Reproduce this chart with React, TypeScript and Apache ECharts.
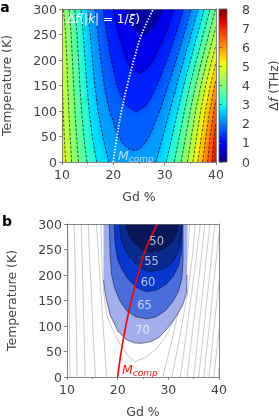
import React, { useEffect, useRef } from "react";
import * as echarts from "echarts";

// ---------------- shared axes ----------------
const gdTicks = [10, 20, 30, 40];
const temperatureTicks = [0, 50, 100, 150, 200, 250, 300];
const deltaFTicks = [0, 1, 2, 3, 4, 5, 6, 7, 8];

// M_comp curve (Gd %, T) – same in both panels
const mcompCurve = [[20.0, 0], [20.7, 50], [21.6, 100], [22.7, 150], [24.0, 200], [25.5, 250], [27.8, 300]];

// ---------------- panel a : contours of Δf (THz) ----------------
const levelsA = [0.5, 1.0, 1.5, 2.0, 2.5, 3.0, 3.5, 4.0, 4.5, 5.0, 5.5, 6.0, 6.5, 7.0];
const topBandValueA = 7.25;

// U-shaped contours (open to the top edge)
const uContour05 = [[22.5, 300], [23.26, 280], [24.04, 265], [25.9, 250], [27.67, 265], [28.58, 280], [29.55, 300]];
const uContour10 = [[19.94, 300], [21.04, 250], [22.63, 200], [23.5, 185], [25.15, 174], [26.72, 185], [27.75, 200], [30.1, 250], [31.87, 300]];
const uContour15 = [[18.03, 300], [18.79, 250], [19.6, 200], [20.78, 150], [21.74, 125], [22.64, 110], [24.5, 98.5], [26.23, 110], [27.23, 125], [28.44, 150], [30.42, 200], [32.12, 250], [33.64, 300]];
const uContour20 = [[16.41, 300], [17.03, 250], [17.58, 200], [18.25, 150], [19.25, 100], [21.01, 50], [21.98, 35], [22.97, 26], [24.1, 22.7], [25.1, 26], [26.0, 35], [26.96, 50], [29.04, 100], [30.67, 150], [32.23, 200], [33.74, 250], [35.15, 300]];

// contours left of the valley (bottom -> top)
const leftContour25 = [[19.1, 0], [17.92, 50], [17.02, 100], [16.39, 150], [15.93, 200], [15.51, 250], [14.98, 300]];
const leftContour30 = [[16.75, 0], [15.89, 50], [15.29, 100], [14.85, 150], [14.5, 200], [14.16, 250], [13.68, 300]];
const leftContour35 = [[14.85, 0], [14.26, 50], [13.82, 100], [13.48, 150], [13.22, 200], [12.93, 250], [12.48, 300]];
const leftContour40 = [[13.22, 0], [12.84, 50], [12.52, 100], [12.26, 150], [12.03, 200], [11.79, 250], [11.36, 300]];
const leftContour45 = [[11.88, 0], [11.58, 50], [11.33, 100], [11.13, 150], [10.94, 200], [10.72, 250], [10.29, 300]];
const leftContour50 = [[10.72, 0], [10.44, 50], [10.24, 100], [10.08, 150], [10, 174]];

// contours right of the valley (bottom -> top)
const rightContour25 = [[28.3, 0], [29.65, 50], [31.0, 100], [32.33, 150], [33.72, 200], [35.13, 250], [36.49, 300]];
const rightContour30 = [[30.3, 0], [31.44, 50], [32.53, 100], [33.71, 150], [35.02, 200], [36.38, 250], [37.72, 300]];
const rightContour35 = [[31.85, 0], [32.87, 50], [33.83, 100], [34.92, 150], [36.19, 200], [37.52, 250], [38.86, 300]];
const rightContour40 = [[33.2, 0], [34.1, 50], [34.98, 100], [36.03, 150], [37.27, 200], [38.59, 250], [39.92, 300]];
const rightContour45 = [[34.45, 0], [35.21, 50], [36.03, 100], [37.05, 150], [38.26, 200], [39.59, 250], [40, 265]];
const rightContour50 = [[35.5, 0], [36.22, 50], [37.0, 100], [37.99, 150], [39.21, 200], [40, 230]];
const rightContour55 = [[36.45, 0], [37.16, 50], [37.91, 100], [38.89, 150], [40, 196]];
const rightContour60 = [[37.4, 0], [38.03, 50], [38.76, 100], [39.74, 150], [40, 161]];
const rightContour65 = [[38.35, 0], [38.85, 50], [39.57, 100], [40, 122]];
const rightContour70 = [[39.25, 0], [39.64, 50], [40, 75]];

// ---------------- panel b : filled contours ----------------
const bandLabelsB = ["50", "55", "60", "65", "70"];
const bandLabelPosB = [[27.7, 267], [26.7, 228], [26.0, 187], [25.3, 142], [24.9, 92]];

const bandB50 = [[21.5, 300], [22.2, 280], [23.3, 262], [24.8, 250], [26.5, 244], [28.3, 248], [29.8, 256], [31.0, 268], [31.7, 285], [32.0, 300]];
const bandB55 = [[20.35, 300], [20.7, 270], [21.5, 250], [22.6, 232], [24.2, 215], [26.3, 207], [28.3, 210], [30.0, 218], [31.3, 232], [32.1, 250], [32.5, 275], [32.6, 300]];
const bandB60 = [[19.3, 300], [19.5, 260], [20.0, 230], [20.9, 210], [22.2, 190], [23.8, 175], [25.7, 167], [27.8, 171], [29.6, 182], [31.0, 198], [32.0, 218], [32.6, 245], [32.75, 300]];
const bandB65 = [[18.35, 300], [18.5, 240], [18.8, 200], [19.4, 175], [20.4, 150], [21.8, 130], [23.6, 118], [25.7, 114], [27.6, 118], [29.4, 130], [30.9, 148], [32.0, 168], [32.7, 195], [32.9, 230], [32.9, 300]];
const bandB70Curve = [[17.2, 190], [17.6, 160], [18.5, 122], [20.1, 89], [21.8, 73], [23.2, 67], [24.7, 66], [26.5, 69], [28.2, 78], [29.8, 95], [31.5, 118], [32.8, 140], [33.6, 165], [33.7, 200]];
const bandB70ClipGd = [17.2, 33.7];

// thin grey contours outside the filled region
const greyB75 = [[16.7, 300], [16.9, 220], [17.3, 160], [17.9, 120], [19.3, 85], [20.8, 60], [22.0, 42], [23.4, 30], [25.4, 38], [27.3, 52], [29.0, 72], [30.4, 97], [31.6, 122], [32.5, 150], [33.2, 185], [33.6, 240], [33.8, 300]];
const greyB80L = [[17.8, 0], [17.3, 75], [16.8, 150], [16.3, 225], [15.8, 300]];
const greyB85L = [[15.6, 0], [15.2, 75], [14.9, 150], [14.5, 225], [14.2, 300]];
const greyB90L = [[13.6, 0], [13.4, 75], [13.2, 150], [13.0, 225], [12.8, 300]];
const greyB95L = [[12.0, 0], [11.9, 75], [11.7, 150], [11.6, 225], [11.4, 300]];
const greyB100L = [[10.6, 0], [10.5, 75], [10.4, 150], [10.3, 225], [10.1, 300]];
const greyB80R = [[28.9, 0], [30.4, 60], [31.8, 120], [33.0, 180], [33.8, 240], [34.2, 300]];
const greyB85R = [[30.7, 0], [31.9, 60], [33.0, 120], [34.0, 180], [34.8, 240], [35.3, 300]];
const greyB90R = [[32.4, 0], [33.4, 75], [34.4, 150], [35.4, 225], [36.3, 300]];
const greyB95R = [[33.7, 0], [34.6, 75], [35.5, 150], [36.4, 225], [37.2, 300]];
const greyB100R = [[35.0, 0], [35.8, 75], [36.6, 150], [37.4, 225], [38.2, 300]];
const greyB105R = [[36.0, 0], [36.8, 75], [37.6, 150], [38.4, 225], [39.2, 300]];
const greyB110R = [[37.0, 0], [37.8, 75], [38.6, 150], [39.4, 225], [40.0, 281]];
const greyB115R = [[38.0, 0], [38.8, 75], [39.6, 150], [40.0, 188]];
const greyB120R = [[39.0, 0], [39.8, 75], [40.0, 94]];
const greyB125R = [[39.8, 0], [40.0, 19]];

// ---------------- helpers (styling) ----------------
const FONT = "DejaVu Sans";
const GD_MIN = gdTicks[0];
const GD_MAX = gdTicks[gdTicks.length - 1];
const T_MIN = temperatureTicks[0];
const T_MAX = temperatureTicks[temperatureTicks.length - 1];
const DF_MAX = deltaFTicks[deltaFTicks.length - 1];

const JET_R = [[0, 0], [0.35, 0], [0.66, 1], [0.89, 1], [1, 0.5]];
const JET_G = [[0, 0], [0.125, 0], [0.375, 1], [0.64, 1], [0.91, 0], [1, 0]];
const JET_B = [[0, 0.5], [0.11, 1], [0.34, 1], [0.65, 0], [1, 0]];
function seg(stops: number[][], t: number) {
  for (let i = 0; i < stops.length - 1; i++) {
    const [p0, v0] = stops[i];
    const [p1, v1] = stops[i + 1];
    if (t <= p1) return v0 + ((v1 - v0) * (t - p0)) / (p1 - p0);
  }
  return stops[stops.length - 1][1];
}
function jet(t: number) {
  const c = Math.max(0, Math.min(1, t));
  const r = Math.round(seg(JET_R, c) * 255);
  const g = Math.round(seg(JET_G, c) * 255);
  const b = Math.round(seg(JET_B, c) * 255);
  return `rgb(${r},${g},${b})`;
}

const uContoursA: Record<string, number[][]> = { "0.5": uContour05, "1": uContour10, "1.5": uContour15, "2": uContour20 };
const leftContoursA: Record<string, number[][]> = { "2.5": leftContour25, "3": leftContour30, "3.5": leftContour35, "4": leftContour40, "4.5": leftContour45, "5": leftContour50 };
const rightContoursA: Record<string, number[][]> = {
  "2.5": rightContour25, "3": rightContour30, "3.5": rightContour35, "4": rightContour40, "4.5": rightContour45,
  "5": rightContour50, "5.5": rightContour55, "6": rightContour60, "6.5": rightContour65, "7": rightContour70,
};

function regionBelowA(level: number): number[][] {
  const key = String(level);
  if (uContoursA[key]) return uContoursA[key];
  const left = leftContoursA[key];
  const right = rightContoursA[key];
  const pts: number[][] = [];
  if (left) {
    pts.push(...left);
    if (left[left.length - 1][1] < T_MAX) pts.push([GD_MIN, T_MAX]);
  } else {
    pts.push([GD_MIN, T_MIN], [GD_MIN, T_MAX]);
  }
  if (right) {
    const rev = right.slice().reverse();
    if (rev[0][1] < T_MAX) pts.push([GD_MAX, T_MAX]);
    pts.push(...rev);
  } else {
    pts.push([GD_MAX, T_MAX], [GD_MAX, T_MIN]);
  }
  return pts;
}

const bandColorsB = ["#08175a", "#0a2a8e", "#0638d0", "#4a6ddc", "#a2afec"];

export default function App() {
  const ref = useRef<HTMLDivElement>(null);
  useEffect(() => {
    if (!ref.current) return;
    const chart = echarts.init(ref.current, undefined, { renderer: "svg" });

    const dashed = { stroke: "rgba(0,0,0,0.8)", lineWidth: 0.8, lineDash: [2.8, 1.6], fill: null };

    const renderA = (params: any, api: any) => {
      const c = (p: number[]) => api.coord(p);
      const children: any[] = [];
      children.push({
        type: "polygon",
        shape: { points: [[GD_MIN, T_MIN], [GD_MIN, T_MAX], [GD_MAX, T_MAX], [GD_MAX, T_MIN]].map(c) },
        style: { fill: jet(topBandValueA / DF_MAX) },
      });
      for (const L of levelsA.slice().reverse()) {
        const col = jet((L - 0.25) / DF_MAX);
        children.push({
          type: "polygon",
          shape: { points: regionBelowA(L).map(c) },
          style: { fill: col, shadowBlur: 6, shadowColor: col },
        });
      }
      const lines = [
        ...Object.values(uContoursA),
        ...Object.values(leftContoursA),
        ...Object.values(rightContoursA),
      ];
      for (const ln of lines) {
        children.push({ type: "polyline", shape: { points: ln.map(c) }, style: dashed });
      }
      return { type: "group", children };
    };

    const renderCb = (params: any, api: any) => {
      const p0 = api.coord([0, deltaFTicks[0]]);
      const p1 = api.coord([1, DF_MAX]);
      const offs = [0, 0.11, 0.125, 0.34, 0.35, 0.375, 0.64, 0.65, 0.66, 0.89, 0.91, 1];
      return {
        type: "rect",
        shape: { x: p0[0], y: p1[1], width: p1[0] - p0[0], height: p0[1] - p1[1] },
        style: {
          fill: new echarts.graphic.LinearGradient(0, 1, 0, 0, offs.map((o) => ({ offset: o, color: jet(o) }))),
          stroke: "#555",
          lineWidth: 0.8,
        },
      };
    };

    const renderB = (params: any, api: any) => {
      const c = (p: number[]) => api.coord(p);
      const children: any[] = [];
      const greys = [greyB75, greyB80L, greyB85L, greyB90L, greyB95L, greyB100L, greyB80R, greyB85R, greyB90R, greyB95R, greyB100R, greyB105R, greyB110R, greyB115R, greyB120R, greyB125R];
      for (const g of greys) {
        children.push({ type: "polyline", shape: { points: g.map(c) }, style: { stroke: "#a8a8a8", lineWidth: 0.6, fill: null } });
      }
      const b70 = [[bandB70ClipGd[0], T_MAX], ...bandB70Curve, [bandB70ClipGd[1], T_MAX]];
      const bands = [b70, bandB65, bandB60, bandB55, bandB50];
      const cols = bandColorsB.slice().reverse();
      bands.forEach((b, i) => {
        children.push({ type: "polygon", shape: { points: b.map(c) }, style: { fill: cols[i] } });
      });
      const outlines = [bandB70Curve, bandB65, bandB60, bandB55, bandB50];
      for (const o of outlines) {
        children.push({ type: "polyline", shape: { points: o.map(c) }, style: { stroke: "rgba(10,10,30,0.85)", lineWidth: 0.6, fill: null } });
      }
      return { type: "group", children };
    };

    const axisLineStyle = { color: "#666", width: 0.8 };
    const mkX = (gridIndex: number) => ({
      type: "value", gridIndex, min: GD_MIN, max: GD_MAX, interval: gdTicks[1] - gdTicks[0],
      axisLine: { show: true, onZero: false, lineStyle: axisLineStyle },
      axisTick: { show: true, length: 3, lineStyle: axisLineStyle },
      minorTick: { show: true, splitNumber: 2, length: 2, lineStyle: { color: "#666", width: 0.7 } },
      axisLabel: { color: "#444", fontSize: 12.5, fontFamily: FONT, margin: 6 },
      splitLine: { show: false }, minorSplitLine: { show: false }, z: 10,
    });
    const mkY = (gridIndex: number) => ({
      type: "value", gridIndex, min: T_MIN, max: T_MAX, interval: temperatureTicks[1] - temperatureTicks[0],
      axisLine: { show: true, onZero: false, lineStyle: axisLineStyle },
      axisTick: { show: true, length: 3, lineStyle: axisLineStyle },
      axisLabel: { color: "#444", fontSize: 12.5, fontFamily: FONT, margin: 5 },
      splitLine: { show: false }, z: 10,
    });
    const frameX = (gridIndex: number) => ({
      type: "value", gridIndex, min: GD_MIN, max: GD_MAX, position: "top",
      axisLine: { show: true, onZero: false, lineStyle: axisLineStyle },
      axisTick: { show: false }, axisLabel: { show: false }, splitLine: { show: false }, z: 10,
    });
    const frameY = (gridIndex: number) => ({
      type: "value", gridIndex, min: T_MIN, max: T_MAX, position: "right",
      axisLine: { show: true, onZero: false, lineStyle: axisLineStyle },
      axisTick: { show: false }, axisLabel: { show: false }, splitLine: { show: false }, z: 10,
    });

    const mathRich = (color: string, size: number) => ({
      r: { fontFamily: FONT, fontSize: size, fill: color, color },
      i: { fontFamily: FONT, fontSize: size, fontStyle: "italic", fill: color, color },
    });
    const mcompRich = (color: string) => ({
      m: { fontFamily: FONT, fontSize: 12.5, fontStyle: "italic", fill: color, lineHeight: 16, verticalAlign: "middle" },
      s: { fontFamily: FONT, fontSize: 9, fontStyle: "italic", fill: color, lineHeight: 9, verticalAlign: "bottom" },
    });

    const option: any = {
      animation: false,
      grid: [
        { left: 62, top: 9, width: 154, height: 153 },
        { left: 219, top: 9, width: 8, height: 153 },
        { left: 67, top: 224, width: 152, height: 153 },
      ],
      xAxis: [
        mkX(0),
        frameX(0),
        { type: "value", gridIndex: 1, min: 0, max: 1, show: false },
        mkX(2),
        frameX(2),
      ],
      yAxis: [
        mkY(0),
        frameY(0),
        {
          type: "value", gridIndex: 1, min: deltaFTicks[0], max: DF_MAX, interval: 1, position: "right",
          axisLine: { show: false }, axisTick: { show: true, length: 3, lineStyle: { color: "#555", width: 0.8 } },
          axisLabel: { color: "#444", fontSize: 12.5, fontFamily: FONT, margin: 15 },
          splitLine: { show: false }, z: 10,
        },
        mkY(2),
        frameY(2),
      ],
      series: [
        {
          type: "custom", xAxisIndex: 0, yAxisIndex: 0, data: [[GD_MIN, T_MIN]], encode: { x: 0, y: 1 },
          renderItem: renderA, clip: true, silent: true, z: 2,
        },
        {
          type: "line", xAxisIndex: 0, yAxisIndex: 0, data: mcompCurve, showSymbol: false, smooth: 0.35,
          lineStyle: { color: "#ffffff", width: 1.8, type: [1.4, 1.6] }, silent: true, z: 4,
        },
        {
          type: "custom", xAxisIndex: 2, yAxisIndex: 2, data: [[0, 0]], encode: { x: 0, y: 1 },
          renderItem: renderCb, silent: true, z: 2,
        },
        {
          type: "custom", xAxisIndex: 3, yAxisIndex: 3, data: [[GD_MIN, T_MIN]], encode: { x: 0, y: 1 },
          renderItem: renderB, clip: true, silent: true, z: 2,
        },
        {
          type: "line", xAxisIndex: 3, yAxisIndex: 3, data: mcompCurve, showSymbol: false, smooth: 0.35,
          lineStyle: { color: "#ff0000", width: 1.6 }, silent: true, z: 4,
        },
        {
          type: "scatter", xAxisIndex: 3, yAxisIndex: 3, symbolSize: 0, silent: true, z: 5,
          data: bandLabelPosB.map((p, i) => ({ name: bandLabelsB[i], value: p })),
          label: { show: true, position: "inside", formatter: "{b}", color: "rgba(255,255,255,0.88)", fontSize: 11.5, fontFamily: FONT },
        },
      ],
      graphic: [
        { type: "text", x: 5, y: 7, style: { text: "a", fontFamily: FONT, fontSize: 14, fontWeight: "bold", fill: "#000", align: "center", verticalAlign: "middle" } },
        { type: "text", x: 7, y: 221, style: { text: "b", fontFamily: FONT, fontSize: 14, fontWeight: "bold", fill: "#000", align: "center", verticalAlign: "middle" } },
        { type: "text", x: 6, y: 85.5, rotation: Math.PI / 2, style: { text: "Temperature (K)", fontFamily: FONT, fontSize: 12.5, fill: "#444", align: "center", verticalAlign: "middle" } },
        { type: "text", x: 11, y: 300.5, rotation: Math.PI / 2, style: { text: "Temperature (K)", fontFamily: FONT, fontSize: 12.5, fill: "#444", align: "center", verticalAlign: "middle" } },
        { type: "text", x: 139, y: 196, style: { text: "Gd %", fontFamily: FONT, fontSize: 12.5, fill: "#444", align: "center", verticalAlign: "middle" } },
        { type: "text", x: 143, y: 411, style: { text: "Gd %", fontFamily: FONT, fontSize: 12.5, fill: "#444", align: "center", verticalAlign: "middle" } },
        {
          type: "text", x: 273, y: 85.5, rotation: Math.PI / 2,
          style: { text: "{r|Δ}{i|f}{r| (THz)}", rich: mathRich("#444", 12.5), align: "center", verticalAlign: "middle" },
        },
        {
          type: "text", x: 67, y: 19, z: 20,
          style: { text: "{r|Δ}{i|f}{r|(|}{i|k}{r|| = 1/}{i|ξ}{r|)}", rich: mathRich("#ffffff", 12), align: "left", verticalAlign: "middle" },
        },
        {
          type: "text", x: 118, y: 155, z: 20,
          style: { text: "{m|M}{s|comp}", rich: mcompRich("rgba(220,230,255,0.85)"), align: "left", verticalAlign: "middle" },
        },
        {
          type: "text", x: 122, y: 369, z: 20,
          style: { text: "{m|M}{s|comp}", rich: mcompRich("#ff1a1a"), align: "left", verticalAlign: "middle" },
        },
      ],
    };
    chart.setOption(option);
    return () => chart.dispose();
  }, []);
  return <div ref={ref} style={{ position: "fixed", left: 0, top: 0, width: 279, height: 418 }} />;
}
